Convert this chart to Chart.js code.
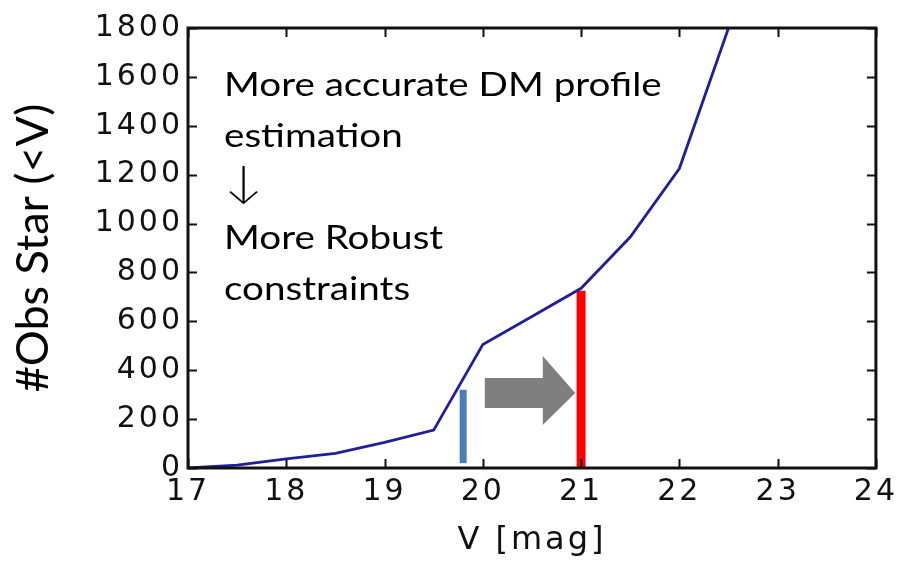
<!DOCTYPE html>
<html><head><meta charset="utf-8">
<style>html,body{margin:0;padding:0;background:#fff}#wrap{width:901px;height:562px}</style>
<script src="https://cdn.jsdelivr.net/npm/chart.js@4/dist/chart.umd.min.js"></script>
</head><body><div id="wrap"><canvas id="c" width="901" height="562"></canvas></div>
<script>
// ---- data ----
const magnitudes = [17, 17.5, 18, 18.5, 19, 19.5, 20, 20.5, 21, 21.5, 22, 22.5];
const starCounts = [0, 12, 37, 60, 105, 155, 505, 620, 735, 945, 1225, 1800];
const xTickValues = [17, 18, 19, 20, 21, 22, 23, 24];
const yTickValues = [0, 200, 400, 600, 800, 1000, 1200, 1400, 1600, 1800];
const currentLimit = [{x: 19.8, y: 20}, {x: 19.8, y: 320}];
const futureLimit = [{x: 21, y: 0}, {x: 21, y: 725}];
const arrowX = [20.02, 20.61, 20.94];          // start, neck, tip
const arrowY = [176, 245, 307, 368, 458];      // headLow, shaftLow, centre, shaftHigh, headHigh
const noteLines = ['More accurate DM profile', 'estimation', '\u2193', 'More Robust', 'constraints'];
const xTitle = 'V [mag]';
const yTitle = '#Obs Star (<V)';

const curve = magnitudes.map((m, i) => ({x: m, y: starCounts[i]}));

function spaced(scale, method, spacing) {
  if (scale['_patched_' + method]) return;
  const orig = Object.getPrototypeOf(scale)[method];
  scale[method] = function (...args) {
    const ctx = this.ctx;
    ctx.save();
    ctx.letterSpacing = spacing;
    orig.apply(this, args);
    ctx.restore();
  };
  scale['_patched_' + method] = true;
}

const framePlugin = {
  id: 'frame',
  beforeDatasetsDraw(chart) {
    const ctx = chart.ctx;
    const xs = chart.scales.x, ys = chart.scales.y;
    ctx.save();
    ctx.fillStyle = '#7f7f7f';
    ctx.beginPath();
    ctx.moveTo(xs.getPixelForValue(arrowX[0]), ys.getPixelForValue(arrowY[3]));
    ctx.lineTo(xs.getPixelForValue(arrowX[1]), ys.getPixelForValue(arrowY[3]));
    ctx.lineTo(xs.getPixelForValue(arrowX[1]), ys.getPixelForValue(arrowY[4]));
    ctx.lineTo(xs.getPixelForValue(arrowX[2]), ys.getPixelForValue(arrowY[2]));
    ctx.lineTo(xs.getPixelForValue(arrowX[1]), ys.getPixelForValue(arrowY[0]));
    ctx.lineTo(xs.getPixelForValue(arrowX[1]), ys.getPixelForValue(arrowY[1]));
    ctx.lineTo(xs.getPixelForValue(arrowX[0]), ys.getPixelForValue(arrowY[1]));
    ctx.closePath();
    ctx.fill();
    ctx.restore();
  },
  afterDraw(chart) {
    const ctx = chart.ctx;
    const a = chart.chartArea, xs = chart.scales.x, ys = chart.scales.y;
    ctx.save();
    ctx.strokeStyle = '#111';
    ctx.lineWidth = 2;
    const L = 9;
    xTickValues.forEach(v => {
      const px = Math.round(xs.getPixelForValue(v)) + 0.5;
      ctx.beginPath();
      ctx.moveTo(px, a.bottom); ctx.lineTo(px, a.bottom - L);
      ctx.moveTo(px, a.top); ctx.lineTo(px, a.top + L);
      ctx.stroke();
    });
    yTickValues.forEach(v => {
      const py = Math.round(ys.getPixelForValue(v)) + 0.5;
      ctx.beginPath();
      ctx.moveTo(a.left, py); ctx.lineTo(a.left + L, py);
      ctx.moveTo(a.right, py); ctx.lineTo(a.right - L, py);
      ctx.stroke();
    });
    ctx.lineWidth = 3;
    ctx.strokeRect(a.left, a.top, a.right - a.left, a.bottom - a.top);
    ctx.restore();
    // annotation text (horizontally widened like the reference)
    ctx.save();
    ctx.fillStyle = '#000';
    ctx.textBaseline = 'alphabetic';
    ctx.textAlign = 'left';
    ctx.translate(224, 0);
    ctx.scale(1.17, 1);
    const baselines = [96, 147, 197, 249, 300];
    noteLines.forEach((t, i) => {
      ctx.font = (t === '\u2193') ? '300 44px Lato, "DejaVu Sans", sans-serif' : '33px Lato, sans-serif';
      ctx.fillText(t, 0, baselines[i]);
    });
    ctx.restore();
  }
};

new Chart(document.getElementById('c'), {
  type: 'line',
  data: {
    datasets: [
      {data: curve, borderColor: '#1f1f9e', borderWidth: 2.8, pointRadius: 0, tension: 0, fill: false},
      {data: currentLimit, borderColor: '#4a7ebb', borderWidth: 7, pointRadius: 0, borderCapStyle: 'butt'},
      {data: futureLimit, borderColor: '#ff0000', borderWidth: 9, pointRadius: 0, borderCapStyle: 'butt'}
    ]
  },
  options: {
    responsive: false,
    animation: false,
    events: [],
    layout: {padding: {left: 0, right: 22, top: 28, bottom: 0}},
    plugins: {legend: {display: false}, tooltip: {enabled: false}},
    scales: {
      x: {
        type: 'linear', min: 17, max: 24,
        afterBuildTicks: s => { s.ticks = xTickValues.map(v => ({value: v})); },
        afterFit: s => { s.height = 94; spaced(s, 'drawLabels', '3px'); spaced(s, 'drawTitle', '3px'); },
        grid: {display: false, drawTicks: false},
        border: {display: false},
        ticks: {color: '#111', padding: 6, maxRotation: 0, font: {family: 'DejaVu Sans', size: 30}, callback: v => String(v)},
        title: {display: true, text: xTitle, color: '#111', padding: {top: 0, bottom: 2}, font: {family: 'DejaVu Sans', size: 32}}
      },
      y: {
        min: 0, max: 1800,
        afterBuildTicks: s => { s.ticks = yTickValues.map(v => ({value: v})); },
        afterFit: s => { s.width = 188; spaced(s, 'drawLabels', '3px'); },
        grid: {display: false, drawTicks: false},
        border: {display: false},
        ticks: {color: '#111', padding: 5, font: {family: 'DejaVu Sans', size: 30}, callback: v => String(v)},
        title: {display: true, text: yTitle, color: '#000', padding: {top: 6, bottom: 0}, font: {family: 'Lato', size: 45}}
      }
    }
  },
  plugins: [framePlugin]
});
</script>
</body></html>
